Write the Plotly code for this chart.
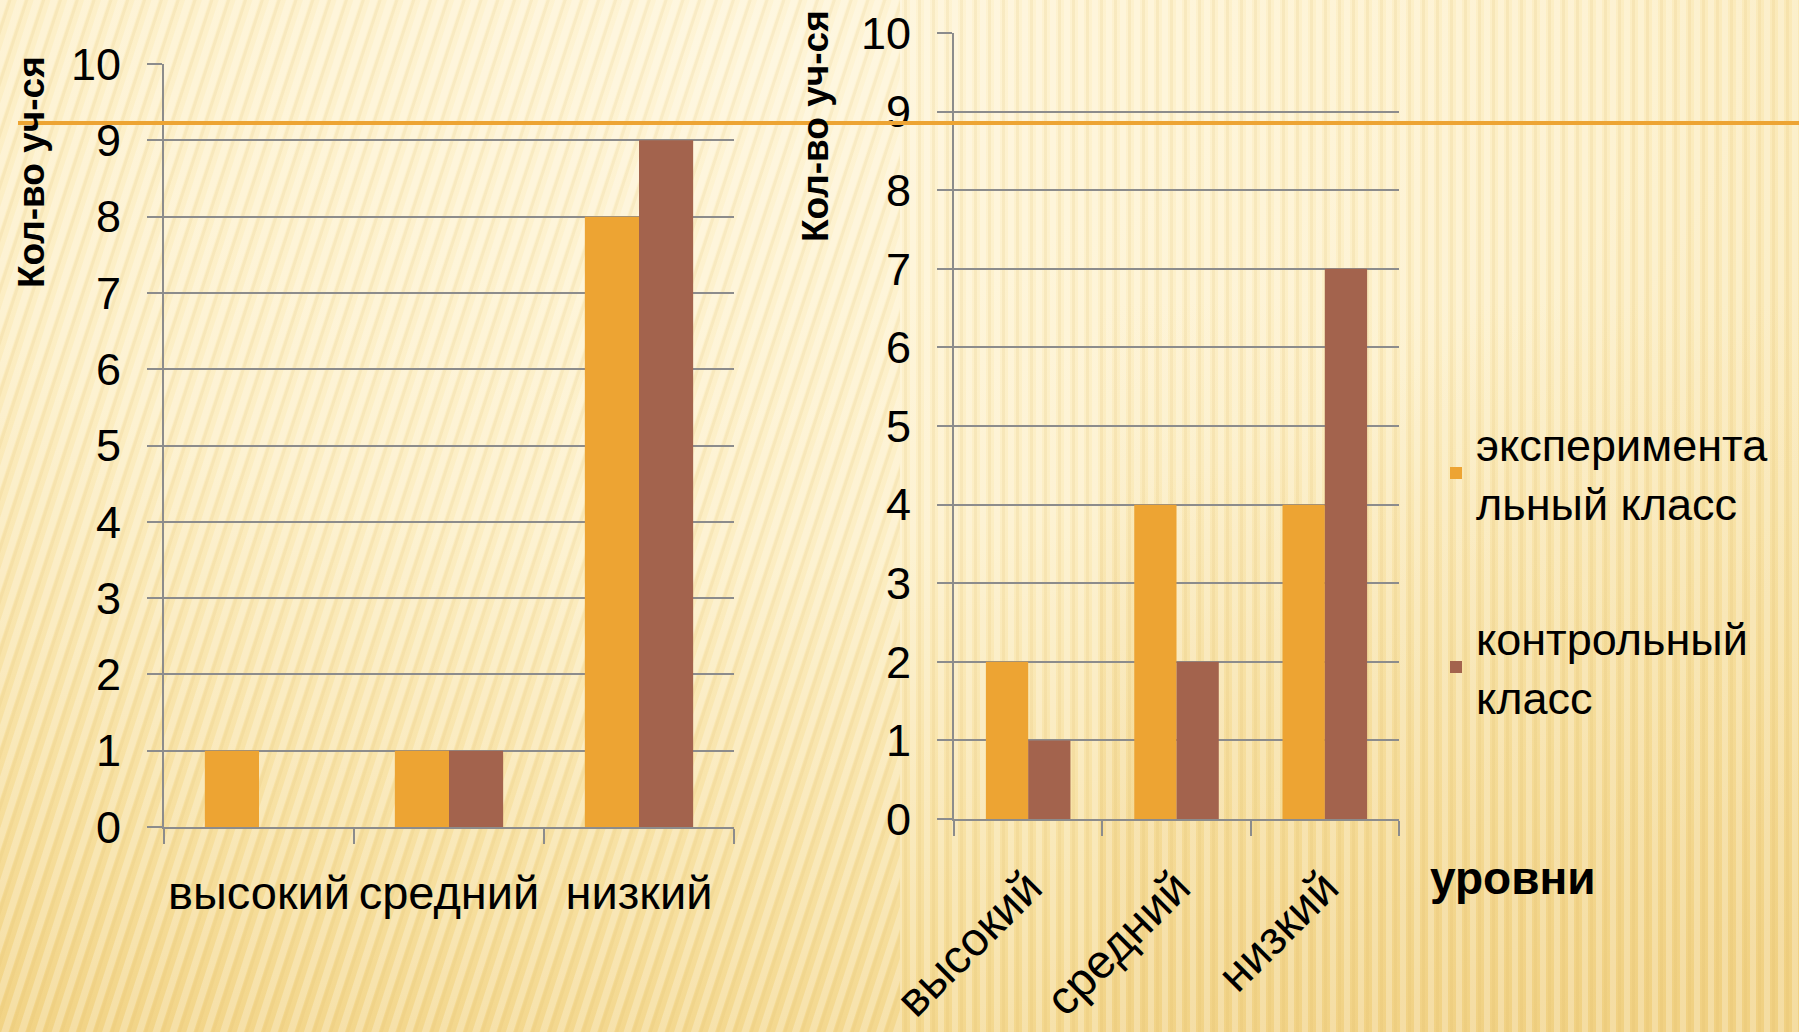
import base64
import plotly.graph_objects as go

# ---- data ----
categories = ["высокий", "средний", "низкий"]
left_experimental = [1, 1, 8]
left_control = [0, 1, 9]
right_experimental = [2, 4, 4]
right_control = [1, 2, 7]
series_names = ["эксперимента<br>льный класс", "контрольный<br>класс"]
y_ticks = list(range(0, 11))
y_title = "Кол-во уч-ся"
x_title_right = "уровни"

ORANGE = "#EDA433"
BROWN = "#A3634D"
GRID = "#8C8C8C"
FONT = "Liberation Sans, Arial, sans-serif"

W, H = 1799, 1032

# ---- background (decorative) ----
svg = f"""<svg xmlns='http://www.w3.org/2000/svg' width='{W}' height='{H}'>
<defs>
<radialGradient id='g' cx='0.42' cy='0.05' r='1.05'>
<stop offset='0' stop-color='#FEF4D6'/>
<stop offset='0.45' stop-color='#FCEEC4'/>
<stop offset='0.8' stop-color='#F6DE9C'/>
<stop offset='1' stop-color='#F1D283'/>
</radialGradient>
<linearGradient id='r' x1='0' y1='0' x2='0' y2='1'>
<stop offset='0' stop-color='#F3D88F' stop-opacity='0'/>
<stop offset='1' stop-color='#F0D083' stop-opacity='0.55'/>
</linearGradient>
<pattern id='p1' width='16' height='40' patternUnits='userSpaceOnUse' patternTransform='rotate(18)'>
<rect width='7' height='40' fill='#FFFFFF' fill-opacity='0.25'/>
<rect x='8' width='3' height='40' fill='#D9B15A' fill-opacity='0.13'/>
</pattern>
<pattern id='p2' width='14' height='40' patternUnits='userSpaceOnUse'>
<rect width='6' height='40' fill='#FFFFFF' fill-opacity='0.25'/>
<rect x='8' width='3' height='40' fill='#D9B15A' fill-opacity='0.13'/>
</pattern>
</defs>
<rect width='100%' height='100%' fill='url(#g)'/>
<rect x='1100' y='300' width='{W-1100}' height='{H-300}' fill='url(#r)'/>
<rect width='900' height='100%' fill='url(#p1)'/>
<rect x='900' width='{W-900}' height='100%' fill='url(#p2)'/>
</svg>"""
bg_src = "data:image/svg+xml;base64," + base64.b64encode(svg.encode("utf-8")).decode("ascii")

fig = go.Figure()

fig.add_trace(go.Bar(x=categories, y=left_experimental, name=series_names[0],
                     marker=dict(color=ORANGE, line=dict(width=0)),
                     xaxis="x", yaxis="y", legendgroup="a", showlegend=True))
fig.add_trace(go.Bar(x=categories, y=left_control, name=series_names[1],
                     marker=dict(color=BROWN, line=dict(width=0)),
                     xaxis="x", yaxis="y", legendgroup="b", showlegend=True))
fig.add_trace(go.Bar(x=categories, y=right_experimental, name=series_names[0],
                     marker=dict(color=ORANGE, line=dict(width=0)),
                     xaxis="x2", yaxis="y2", legendgroup="a", showlegend=False))
fig.add_trace(go.Bar(x=categories, y=right_control, name=series_names[1],
                     marker=dict(color=BROWN, line=dict(width=0)),
                     xaxis="x2", yaxis="y2", legendgroup="b", showlegend=False))

def yaxis_common(domain, anchor):
    return dict(domain=domain, anchor=anchor, range=[0, 10.001], tickvals=y_ticks,
                showgrid=True, gridcolor=GRID, gridwidth=2,
                showline=True, linecolor=GRID, linewidth=2,
                ticks="outside", ticklen=15, tickcolor=GRID, tickwidth=2,
                ticklabelstandoff=17, automargin=False,
                tickfont=dict(family=FONT, size=45, color="#000000"),
                zeroline=False, fixedrange=True)

def xaxis_common(domain, anchor, angle, standoff):
    return dict(domain=domain, anchor=anchor, type="category",
                showline=True, linecolor=GRID, linewidth=2,
                ticks="outside", ticklen=15, tickcolor=GRID, tickwidth=2,
                tickson="boundaries", showgrid=False, tickangle=angle,
                ticklabelstandoff=standoff, automargin=False,
                tickfont=dict(family=FONT, size=47, color="#000000"),
                fixedrange=True)

fig.update_layout(
    width=W, height=H,
    margin=dict(l=0, r=0, t=0, b=0, autoexpand=False),
    paper_bgcolor="#FCEFC6",
    plot_bgcolor="rgba(0,0,0,0)",
    barmode="group", bargap=0.43, bargroupgap=0,
    font=dict(family=FONT, color="#000000"),
    xaxis=xaxis_common([164 / W, 734 / W], "y", 0, 24),
    yaxis=yaxis_common([1 - 827 / H, 1 - 64 / H], "x"),
    xaxis2=xaxis_common([954 / W, 1399 / W], "y2", -45, 20),
    yaxis2=yaxis_common([1 - 819 / H, 1 - 33 / H], "x2"),
    legend=dict(x=1436 / W, y=1 - 408 / H, xanchor="left", yanchor="top",
                bgcolor="rgba(0,0,0,0)", borderwidth=0,
                font=dict(family=FONT, size=45, color="#000000"),
                traceorder="grouped", tracegroupgap=74, itemwidth=30),
    images=[dict(source=bg_src, xref="paper", yref="paper", x=0, y=1,
                 sizex=1, sizey=1, xanchor="left", yanchor="top",
                 sizing="stretch", layer="below")],
    shapes=[dict(type="line", xref="paper", yref="paper",
                 x0=18 / W, x1=1, y0=1 - 123 / H, y1=1 - 123 / H,
                 line=dict(color=ORANGE, width=4), layer="above")],
    annotations=[
        dict(text=f"<b>{y_title}</b>", xref="paper", yref="paper",
             x=32 / W, y=1 - 172 / H, textangle=-90, showarrow=False,
             xanchor="center", yanchor="middle",
             font=dict(family=FONT, size=37, color="#000000")),
        dict(text=f"<b>{y_title}</b>", xref="paper", yref="paper",
             x=815 / W, y=1 - 126 / H, textangle=-90, showarrow=False,
             xanchor="center", yanchor="middle",
             font=dict(family=FONT, size=37, color="#000000")),
        dict(text=f"<b>{x_title_right}</b>", xref="paper", yref="paper",
             x=1428 / W, y=1 - 878 / H, showarrow=False,
             xanchor="left", yanchor="middle",
             font=dict(family=FONT, size=46, color="#000000")),
    ],
)

fig.write_html("out.html",
               config={"displayModeBar": False},
               post_script="document.body.style.margin='0';document.body.style.overflow='hidden';")
